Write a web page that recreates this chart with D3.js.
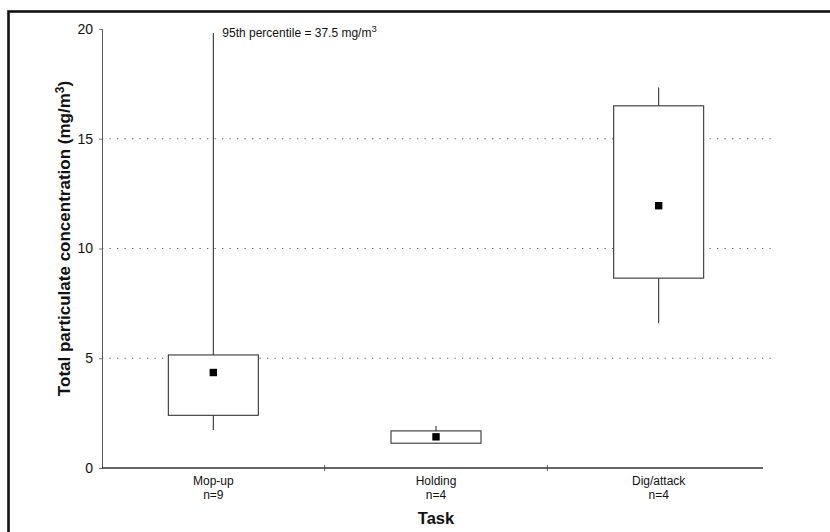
<!DOCTYPE html>
<html>
<head>
<meta charset="utf-8">
<script src="https://cdn.jsdelivr.net/npm/d3@7"></script>
<style>
  html, body { margin: 0; padding: 0; background: #fff; }
  svg { display: block; font-family: "Liberation Sans", Arial, sans-serif; }
</style>
</head>
<body>
<svg id="chart" width="830" height="532"></svg>
<script>
// Task categories and sample sizes
const tasks = ["Mop-up", "Holding", "Dig/attack"];
const counts = [9, 4, 4];

// Box summaries (mg/m3)
const whiskerLow = [1.73, 1.13, 6.6];
const boxLow = [2.4, 1.13, 8.65];
const boxHigh = [5.15, 1.69, 16.5];
const whiskerHigh = [37.5, 1.91, 17.33];
const means = [4.35, 1.42, 11.95];

// Y axis ticks
const yTicks = [0, 5, 10, 15, 20];
const gridValues = [5, 10, 15];

const svg = d3.select("#chart");
const margin = { left: 102 };

const x = d3.scaleBand()
  .domain(tasks)
  .range([margin.left, 770])
  .paddingInner(0)
  .paddingOuter(0);

const y = d3.scaleLinear()
  .domain([0, 20])
  .range([468, 29]);

// Outer frame
svg.append("rect")
  .attr("x", 8.5).attr("y", 11.5)
  .attr("width", 840).attr("height", 540)
  .attr("fill", "none")
  .attr("stroke", "#111")
  .attr("stroke-width", 2.6);

// Dotted gridlines
svg.append("g").selectAll("line")
  .data(gridValues)
  .join("line")
  .attr("x1", margin.left).attr("x2", 773)
  .attr("y1", d => y(d)).attr("y2", d => y(d))
  .attr("stroke", "#666")
  .attr("stroke-width", 1.2)
  .attr("stroke-dasharray", "1.3,6.2");

// Y axis
const yAxis = d3.axisLeft(y)
  .tickValues(yTicks)
  .tickSize(3)
  .tickPadding(6)
  .tickFormat(d3.format("d"));
const gy = svg.append("g")
  .attr("transform", `translate(${margin.left},0)`)
  .call(yAxis);
gy.select(".domain").attr("stroke", "#555").attr("stroke-width", 1);
gy.selectAll(".tick line").attr("stroke", "#777");
gy.selectAll(".tick text")
  .attr("font-size", 14)
  .attr("fill", "#111")
  .attr("font-family", "Liberation Sans, Arial, sans-serif");

// X axis
const xAxis = d3.axisBottom(x)
  .tickSize(0)
  .tickFormat(() => "");
const gx = svg.append("g")
  .attr("transform", `translate(0,${y(0)})`)
  .call(xAxis);
gx.select(".domain")
  .attr("d", `M${margin.left},0H763`)
  .attr("stroke", "#333")
  .attr("stroke-width", 1.4);

// Band separator ticks on x axis
const separators = tasks.slice(1).map(t => x(t));
svg.append("g").selectAll("line")
  .data(separators)
  .join("line")
  .attr("x1", d => d).attr("x2", d => d)
  .attr("y1", y(0) - 3).attr("y2", y(0) + 3)
  .attr("stroke", "#555")
  .attr("stroke-width", 1);

// Category labels
const labels = svg.append("g");
tasks.forEach((t, i) => {
  const cx = x(t) + x.bandwidth() / 2;
  labels.append("text")
    .attr("x", cx).attr("y", 485)
    .attr("text-anchor", "middle")
    .attr("font-size", 12)
    .attr("fill", "#111")
    .text(t);
  labels.append("text")
    .attr("x", cx).attr("y", 499)
    .attr("text-anchor", "middle")
    .attr("font-size", 12)
    .attr("fill", "#111")
    .text("n=" + counts[i]);
});

// Clip for values that run past the axis maximum
svg.append("clipPath").attr("id", "plotClip")
  .append("rect")
  .attr("x", margin.left).attr("y", y(20) + 4)
  .attr("width", 700).attr("height", y(0) - y(20));

const boxW = 90;
const boxes = svg.append("g").attr("clip-path", "url(#plotClip)");

tasks.forEach((t, i) => {
  const cx = x(t) + x.bandwidth() / 2;
  // whisker
  boxes.append("line")
    .attr("x1", cx).attr("x2", cx)
    .attr("y1", y(whiskerLow[i])).attr("y2", y(whiskerHigh[i]))
    .attr("stroke", "#333")
    .attr("stroke-width", 1.1);
  // box
  boxes.append("rect")
    .attr("x", cx - boxW / 2)
    .attr("y", y(boxHigh[i]))
    .attr("width", boxW)
    .attr("height", y(boxLow[i]) - y(boxHigh[i]))
    .attr("fill", "#fff")
    .attr("stroke", "#333")
    .attr("stroke-width", 1.1);
  // mean marker
  boxes.append("rect")
    .attr("x", cx - 3.7)
    .attr("y", y(means[i]) - 3.7)
    .attr("width", 7.4).attr("height", 7.4)
    .attr("fill", "#000");
});

// Annotation for the clipped whisker
const ann = svg.append("text")
  .attr("x", x(tasks[0]) + x.bandwidth() / 2 + 9)
  .attr("y", 37)
  .attr("font-size", 12)
  .attr("fill", "#111");
ann.append("tspan").text("95th percentile = " + whiskerHigh[0] + " mg/m");
ann.append("tspan").attr("dy", -5).attr("font-size", 9.5).text("3");

// Axis titles
const yTitle = svg.append("text")
  .attr("transform", `translate(70,${(y(0) + y(20)) / 2 - 10}) rotate(-90)`)
  .attr("text-anchor", "middle")
  .attr("font-size", 17)
  .attr("font-weight", "bold")
  .attr("fill", "#111");
yTitle.append("tspan").text("Total particulate concentration (mg/m");
yTitle.append("tspan").attr("dy", -6).attr("font-size", 12).text("3");
yTitle.append("tspan").attr("dy", 6).text(")");

svg.append("text")
  .attr("x", x(tasks[1]) + x.bandwidth() / 2)
  .attr("y", 524)
  .attr("text-anchor", "middle")
  .attr("font-size", 16.5)
  .attr("font-weight", "bold")
  .attr("fill", "#111")
  .text("Task");
</script>
</body>
</html>
